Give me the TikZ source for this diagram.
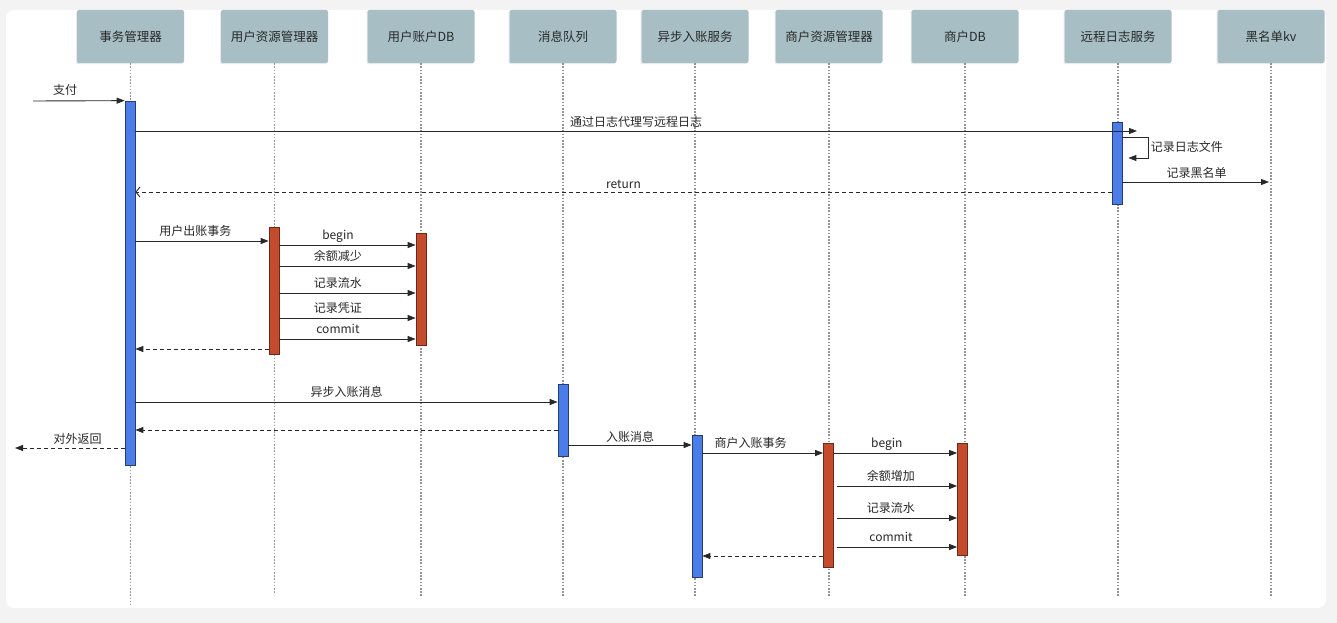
\documentclass[tikz,border=0pt]{standalone}
\usepackage{fontspec}
\setmainfont{Noto Sans CJK SC}
\usetikzlibrary{arrows.meta,shadows}
\definecolor{bgfill}{RGB}{243,243,243}
\definecolor{headfill}{RGB}{167,191,196}
\definecolor{txt}{RGB}{40,40,40}
\definecolor{bluefill}{RGB}{74,125,232}
\definecolor{blueedge}{RGB}{40,60,110}
\definecolor{redfill}{RGB}{196,76,45}
\definecolor{rededge}{RGB}{110,40,25}
\tikzset{
  head/.style={fill=headfill,rounded corners=2pt,minimum width=107pt,minimum height=53pt,text=txt,font=\fontsize{12.5}{14}\selectfont,drop shadow={opacity=0.18,shadow xshift=-1pt,shadow yshift=-1.2pt}},
  life/.style={draw=gray!85,line width=1.1pt,dash pattern=on 1.6pt off 1.6pt},
  actb/.style={draw=blueedge,fill=bluefill,minimum width=10pt,inner sep=0pt,line width=0.7pt},
  actr/.style={draw=rededge,fill=redfill,minimum width=10pt,inner sep=0pt,line width=0.7pt},
  msg/.style={draw=txt,line width=0.9pt,-{Triangle[length=8pt,width=6pt]}},
  ret/.style={msg,dash pattern=on 4pt off 3pt},
  lbl/.style={text=txt,inner sep=2pt,text height=9.5pt,text depth=2.5pt}
}
\begin{document}
\begin{tikzpicture}[x=1pt,y=-1pt,font=\fontsize{12}{14}\selectfont]
\fill[bgfill] (0,0) rectangle (1337,623);
\fill[white,rounded corners=8pt] (6,10) rectangle (1326,608);
% participants and lifelines
\foreach \n/\x/\e/\t in {tm/130.5/605/事务管理器,ur/274.5/593/用户资源管理器,ud/421/597/用户账户DB,mq/563/597/消息队列,as/695/597/异步入账服务,mr/829/597/商户资源管理器,md/965/597/商户DB,rl/1118/597/远程日志服务,bl/1271/597/黑名单kv}{
  \node[head] (\n) at (\x,36.5){\t};
  \draw[life] (\n.south) -- (\n.south |- 0,\e);
}
% activation bars
\node[actb,minimum height=364pt] (tmbar) at (130,283){};
\node[actr,minimum height=127pt] (urbar) at (274,290.5){};
\node[actr,minimum height=112pt] (udbar) at (421,289){};
\node[actb,minimum height=72pt] (mqbar) at (563,420){};
\node[actb,minimum height=142pt] (asbar) at (697,506){};
\node[actr,minimum height=124pt] (mrbar) at (828.5,505){};
\node[actr,minimum height=112pt] (mdbar) at (962.5,499){};
\node[actb,minimum height=82pt] (rlbar) at (1117,163){};
\coordinate (pay) at (33,101); \coordinate (logend) at (1137,131); \coordinate (out) at (15,448);
% messages
\draw[msg] (pay) -- node[lbl,above=1pt,pos=0.35]{支付} (tmbar.north west);
\draw[msg] (tmbar.east |- 0,131) -- node[lbl,above=0pt]{通过日志代理写远程日志} (logend);
\draw[msg] (rlbar.east |- 0,137) -- ++(26,0) |- node[lbl,right,pos=0.25]{记录日志文件} ++(-20,21);
\draw[msg,shorten >=2pt] (rlbar.east |- 0,182) -- node[lbl,above=0pt]{记录黑名单} (bl |- 0,182);
\draw[ret,-{Straight Barb[length=4pt,width=10pt]}] (rlbar.west |- 0,192) -- node[lbl,above=-1pt]{return} (tmbar.east |- 0,192);
\draw[msg] (tmbar.east |- 0,241) -- node[lbl,above=1pt,pos=0.45]{用户出账事务} (urbar.west |- 0,241);
\foreach \y/\t in {245/begin,266/余额减少,293/记录流水,318/记录凭证,339/commit}
  \draw[msg] (urbar.east |- 0,\y) -- node[lbl,above=0.5pt,pos=0.43]{\t} (udbar.west |- 0,\y);
\draw[ret] (urbar.west |- 0,349) -- (tmbar.east |- 0,349);
\draw[msg] (tmbar.east |- 0,402) -- node[lbl,above=1pt]{异步入账消息} (mqbar.west |- 0,402);
\draw[ret] (mqbar.west |- 0,430) -- (tmbar.east |- 0,430);
\draw[ret] (tmbar.west |- 0,448) -- node[lbl,above=0pt,pos=0.43]{对外返回} (out);
\draw[msg] (mqbar.east |- 0,445) -- node[lbl,above=-1pt]{入账消息} (asbar.west |- 0,445);
\draw[msg] (asbar.east |- 0,453) -- node[lbl,above=1pt,pos=0.4]{商户入账事务} (mrbar.west |- 0,453);
\draw[msg] (mrbar.east |- 0,453) -- node[lbl,above=1pt,pos=0.43]{begin} (mdbar.west |- 0,453);
\foreach \y/\t in {486/余额增加,518/记录流水,547/commit}
  \draw[msg] ([xshift=3pt]mrbar.east |- 0,\y) -- node[lbl,above=1pt,pos=0.45]{\t} (mdbar.west |- 0,\y);
\draw[ret] (mrbar.west |- 0,556) -- (asbar.east |- 0,556);
\end{tikzpicture}
\end{document}
